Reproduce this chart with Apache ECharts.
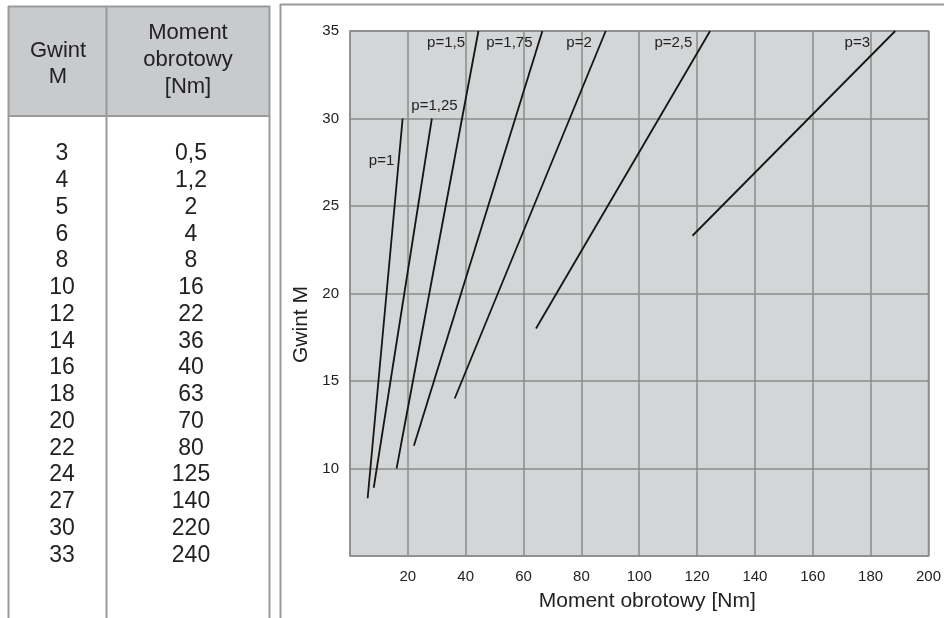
<!DOCTYPE html>
<html>
<head>
<meta charset="utf-8">
<script src="https://cdn.jsdelivr.net/npm/echarts@6/dist/echarts.min.js"></script>
<style>
  html, body { margin: 0; padding: 0; background: #fff; }
  #chart { width: 944px; height: 618px; }
</style>
</head>
<body>
<div id="chart"></div>
<script>
// tabela: gwint i moment
const gwintM = ['3', '4', '5', '6', '8', '10', '12', '14', '16', '18', '20', '22', '24', '27', '30', '33'];
const momentNm = ['0,5', '1,2', '2', '4', '8', '16', '22', '36', '40', '63', '70', '80', '125', '140', '220', '240'];

// linie skoku p (poczatek / koniec)
const pitchNames = ['p=1', 'p=1,25', 'p=1,5', 'p=1,75', 'p=2', 'p=2,5', 'p=3'];
const torqueFrom = [6.1, 8.2, 16.1, 22.1, 36.2, 64.3, 118.4];
const gwintFrom = [8.3, 8.9, 10, 11.3, 14, 18, 23.3];
const torqueTo = [18.2, 28.3, 44.4, 66.5, 88.4, 124.5, 188.5];
const gwintTo = [30, 30, 35, 35, 35, 35, 35];

// ticks
const xTicks = [20, 40, 60, 80, 100, 120, 140, 160, 180, 200];
const yTicks = [10, 15, 20, 25, 30, 35];

// gdzie stoja podpisy p=... (w jednostkach osi)
const labelX = [10.9, 29.2, 33.2, 55.1, 79.2, 111.8, 175.4];
const labelY = [27.6, 30.7, 34.3, 34.3, 34.3, 34.3, 34.3];

const chart = echarts.init(document.getElementById('chart'));
const font = '"Liberation Sans", Arial, sans-serif';
const txt = '#222';
const border = '#9a9a9a';

// tabela po lewej
const graphics = [
  { type: 'rect', shape: { x: 8, y: 6, width: 261, height: 110 }, style: { fill: '#c9cacd' }, silent: true },
  { type: 'line', shape: { x1: 8.5, y1: 6, x2: 8.5, y2: 618 }, style: { stroke: border, lineWidth: 2 } },
  { type: 'line', shape: { x1: 106.5, y1: 6, x2: 106.5, y2: 618 }, style: { stroke: border, lineWidth: 2 } },
  { type: 'line', shape: { x1: 269.5, y1: 6, x2: 269.5, y2: 618 }, style: { stroke: border, lineWidth: 2 } },
  { type: 'line', shape: { x1: 8, y1: 6.5, x2: 270, y2: 6.5 }, style: { stroke: border, lineWidth: 2 } },
  { type: 'line', shape: { x1: 8, y1: 116, x2: 270, y2: 116 }, style: { stroke: border, lineWidth: 2 } },
  // ramka wykresu
  { type: 'line', shape: { x1: 280.5, y1: 4, x2: 280.5, y2: 618 }, style: { stroke: border, lineWidth: 2 } },
  { type: 'line', shape: { x1: 280, y1: 4.5, x2: 944, y2: 4.5 }, style: { stroke: border, lineWidth: 2 } },
  {
    type: 'text', x: 58, y: 64,
    style: { text: 'Gwint\nM', font: '22px ' + font, fill: txt, align: 'center', verticalAlign: 'middle', lineHeight: 26 }
  },
  {
    type: 'text', x: 188, y: 60,
    style: { text: 'Moment\nobrotowy\n[Nm]', font: '22px ' + font, fill: txt, align: 'center', verticalAlign: 'middle', lineHeight: 27 }
  }
];
gwintM.forEach(function (g, i) {
  const y = 154 + i * 26.75;
  graphics.push({ type: 'text', x: 62, y: y, style: { text: g, font: '23px ' + font, fill: txt, align: 'center', verticalAlign: 'middle' } });
  graphics.push({ type: 'text', x: 191, y: y, style: { text: momentNm[i], font: '23px ' + font, fill: txt, align: 'center', verticalAlign: 'middle' } });
});

const series = pitchNames.map(function (name, i) {
  return {
    name: name,
    type: 'line',
    data: [[torqueFrom[i], gwintFrom[i]], [torqueTo[i], gwintTo[i]]],
    symbol: 'none',
    lineStyle: { color: '#151515', width: 1.8 },
    silent: true,
    markPoint: {
      symbol: 'circle',
      symbolSize: 0,
      data: [{ coord: [labelX[i], labelY[i]] }],
      label: {
        show: true,
        position: 'inside',
        formatter: name,
        color: txt,
        fontSize: 15,
        fontFamily: font
      }
    }
  };
});

const option = {
  animation: false,
  graphic: graphics,
  grid: {
    left: 350, top: 31, right: 13, bottom: 62,
    show: true,
    backgroundColor: '#d4d5d7',
    borderColor: '#8b8b8b',
    borderWidth: 1.5
  },
  xAxis: {
    type: 'value',
    min: 0, max: 200, interval: 20,
    name: 'Moment obrotowy [Nm]',
    nameLocation: 'middle',
    nameGap: 35,
    nameTextStyle: { fontSize: 21, color: txt, fontFamily: font, padding: [0, 0, 0, 16] },
    axisLine: { show: false },
    axisTick: { show: false },
    axisLabel: {
      margin: 13, fontSize: 15, color: txt, fontFamily: font,
      formatter: function (v) { return xTicks.indexOf(v) >= 0 ? String(v) : ''; }
    },
    splitLine: { show: true, lineStyle: { color: '#8b8b8b', width: 1.5 } }
  },
  yAxis: {
    type: 'value',
    min: 5, max: 35, interval: 5,
    name: 'Gwint M',
    nameLocation: 'middle',
    nameGap: 37,
    nameTextStyle: { fontSize: 21, color: txt, fontFamily: font, padding: [0, 62, 0, 0] },
    axisLine: { show: false },
    axisTick: { show: false },
    axisLabel: {
      margin: 11, fontSize: 15, color: txt, fontFamily: font,
      formatter: function (v) { return yTicks.indexOf(v) >= 0 ? String(v) : ''; }
    },
    splitLine: { show: true, lineStyle: { color: '#8b8b8b', width: 1.5 } }
  },
  series: series
};
chart.setOption(option);
</script>
</body>
</html>
